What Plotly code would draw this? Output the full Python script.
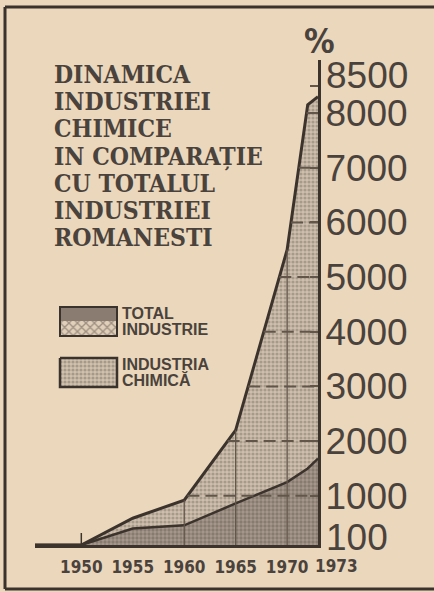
import numpy as np
import plotly.graph_objects as go

# ---- data (index, 1950 = 100 %) ----
years = [1945.5, 1950, 1955, 1960, 1965, 1970, 1972, 1973]
chimica = [100, 100, 590, 920, 2200, 5500, 8150, 8300]
total = [100, 100, 400, 460, 860, 1250, 1500, 1680]

x_ticks = [1950, 1955, 1960, 1965, 1970]
x_ticktext = ["1950", "1955", "1960", "1965", "1970"]
last_year_label = "1973"
y_ticks = [100, 1000, 2000, 3000, 4000, 5000, 6000, 7000, 8000, 8500]
y_ticktext = ["", "1000", "2000", "3000", "4000", "5000", "6000", "7000",
              "8000", ""]
edge_labels = {100: ("100", 8), 8500: ("8500", 10)}   # value: (text, lift px)
grid_levels = [1000, 2000, 3000, 4000, 5000, 6000, 7000, 8000]
vline_years = [1960, 1965, 1970]

title_lines = ["DINAMICA", "INDUSTRIEI", "CHIMICE", "IN COMPARAȚIE",
               "CU TOTALUL", "INDUSTRIEI", "ROMANESTI"]
legend_total = ["TOTAL", "INDUSTRIE"]
legend_chim = ["INDUSTRIA", "CHIMICĂ"]

# ---- style / layout (pixels of the 434x592 page) ----
W, H = 434, 592
PL, PR, PT, PB = 35, 318, 60, 545
BG = "#ebd7bb"
INK = "#4a423c"
LINE_INK = "#3c332d"
GRID_INK = "#62554a"


def px(x):
    return x / W


def py(y):
    return 1 - y / H


fig = go.Figure()

# chemical industry area
fig.add_trace(go.Scatter(
    x=years, y=chimica, mode="lines", fill="tozeroy",
    line=dict(color=LINE_INK, width=3),
    fillcolor="#c8b9a7",
    fillpattern=dict(shape=".", size=4, solidity=0.5,
                     fgcolor="#82756a", bgcolor="#cebfac"),
    showlegend=False, hoverinfo="skip"))

# total industry area
fig.add_trace(go.Scatter(
    x=years, y=total, mode="lines", fill="tozeroy",
    line=dict(color=LINE_INK, width=2.5),
    fillcolor="#a09286",
    fillpattern=dict(shape=".", size=4, solidity=0.55,
                     fgcolor="#685c53", bgcolor="#a7998c"),
    showlegend=False, hoverinfo="skip"))

shapes = []
# dashed level lines from the chemical curve to the right axis
for v in grid_levels:
    if v <= max(chimica):
        xc = float(np.interp(v, chimica[1:], years[1:]))
        shapes.append(dict(type="line", xref="x", yref="y",
                           x0=xc, x1=years[-1], y0=v, y1=v,
                           line=dict(color=GRID_INK, width=2, dash="12px,6px"),
                           layer="above"))
# vertical year lines under the chemical curve
for yr in vline_years:
    top = float(np.interp(yr, years, chimica))
    shapes.append(dict(type="line", xref="x", yref="y",
                       x0=yr, x1=yr, y0=y_ticks[0], y1=top,
                       line=dict(color=GRID_INK, width=1.3), layer="above"))
# small tick at 1950
shapes.append(dict(type="line", xref="x", yref="paper",
                   x0=x_ticks[0], x1=x_ticks[0], y0=py(545), y1=py(533),
                   line=dict(color=LINE_INK, width=1.5)))
# frame of the newspaper box
for (x0, y0, x1, y1) in [(5, 7, 434, 7), (5, 7, 5, 589), (5, 589, 434, 589)]:
    shapes.append(dict(type="line", xref="paper", yref="paper",
                       x0=px(x0), x1=px(x1), y0=py(y0), y1=py(y1),
                       line=dict(color="#3a322c", width=3)))
# legend swatch outline (total)
shapes.append(dict(type="rect", xref="x2", yref="y2", x0=60, x1=117,
                   y0=307, y1=336, line=dict(color="#3a322c", width=2)))
fig.update_layout(shapes=shapes)


# legend swatches drawn on an overlay axis measured in page pixels
def rect(x0, y0, x1, y1, pattern, fill, lw):
    fig.add_trace(go.Scatter(
        x=[x0, x1, x1, x0, x0], y=[y0, y0, y1, y1, y0],
        xaxis="x2", yaxis="y2", mode="lines", fill="toself",
        fillcolor=fill, fillpattern=pattern,
        line=dict(color="#3a322c", width=lw),
        showlegend=False, hoverinfo="skip"))


rect(60, 307, 117, 321, None, "#8a7c70", 0)
rect(60, 321, 117, 336, dict(shape="x", size=6, solidity=0.4,
                             fgcolor="#5d5149", bgcolor="#e0cfb9"), "#e0cfb9", 0)
rect(60, 358, 117, 387, dict(shape=".", size=4, solidity=0.5,
                             fgcolor="#7e7166", bgcolor="#d0c1ad"), "#cbbca9", 2.5)

annotations = []
title_y = [74, 101, 128, 157, 184, 211, 238]
for t, yc in zip(title_lines, title_y):
    annotations.append(dict(
        text=t, xref="paper", yref="paper", x=px(52), y=py(yc),
        xanchor="left", yanchor="middle", showarrow=False,
        font=dict(family="DejaVu Serif Condensed, DejaVu Serif", size=24.5,
                  color=INK, weight="bold")))

LFONT = dict(family="Liberation Sans, Arial", size=16, color=INK, weight="bold")
for t, yc in zip(legend_total, [313, 329]):
    annotations.append(dict(
        text=t, xref="paper", yref="paper", x=px(120), y=py(yc),
        xanchor="left", yanchor="middle", showarrow=False, font=LFONT))
for t, yc in zip(legend_chim, [364, 380]):
    annotations.append(dict(
        text=t, xref="paper", yref="paper", x=px(120), y=py(yc),
        xanchor="left", yanchor="middle", showarrow=False, font=LFONT))

annotations.append(dict(
    text="%", xref="paper", yref="paper", x=px(319), y=py(41),
    xanchor="center", yanchor="middle", showarrow=False,
    font=dict(family="DejaVu Sans Condensed, DejaVu Sans", size=34,
              color=INK, weight="bold")))

YFONT = dict(family="Liberation Sans, Arial", size=37, color=INK)
for v, (t, lift) in edge_labels.items():
    annotations.append(dict(
        text=t, xref="paper", yref="y", x=px(PR), y=v, yshift=lift,
        xanchor="left", yanchor="middle", xshift=6, showarrow=False,
        font=YFONT))

XFONT = dict(family="DejaVu Sans Condensed, sans-serif",
             size=17, color=INK, weight="bold")
annotations.append(dict(
    text=last_year_label, xref="x", yref="paper", x=years[-1], y=py(566),
    xanchor="center", yanchor="middle", xshift=18, showarrow=False,
    font=XFONT))

fig.update_layout(annotations=annotations)

fig.update_layout(
    width=W, height=H,
    margin=dict(l=0, r=0, t=0, b=0, pad=0),
    paper_bgcolor=BG, plot_bgcolor=BG,
    showlegend=False,
    xaxis=dict(domain=[PL / W, PR / W], range=[years[0], years[-1]],
               tickvals=x_ticks, ticktext=x_ticktext, tickangle=0,
               showgrid=False, zeroline=False,
               showline=True, linecolor=LINE_INK, linewidth=3,
               ticks="", tickfont=XFONT, ticklabelstandoff=5),
    yaxis=dict(domain=[1 - PB / H, 1 - PT / H], range=[100, 8970],
               side="right", tickvals=y_ticks, ticktext=y_ticktext,
               showgrid=False, zeroline=False,
               showline=True, linecolor=LINE_INK, linewidth=3,
               ticks="inside", ticklen=8, tickwidth=2, tickcolor=GRID_INK,
               tickfont=YFONT, ticklabelstandoff=-3),
    xaxis2=dict(range=[PL, PR], overlaying="x", visible=False,
                fixedrange=True),
    yaxis2=dict(range=[PB, PT], overlaying="y", visible=False,
                fixedrange=True),
)

fig.write_html(
    "out.html",
    config={"displayModeBar": False},
    post_script="document.body.style.margin='0';"
                "document.body.style.overflow='hidden';")
